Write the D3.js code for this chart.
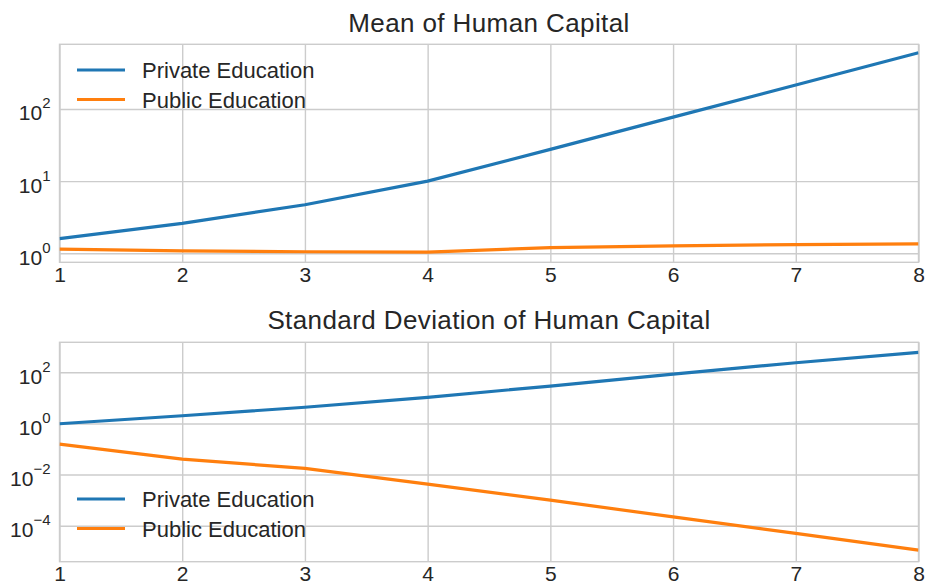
<!DOCTYPE html>
<html><head><meta charset="utf-8">
<script src="https://cdn.jsdelivr.net/npm/d3@7"></script>
<style>
body{margin:0;background:#fff}
svg{display:block}
text{font-family:"Liberation Sans",Arial,sans-serif;fill:#262626}
</style>
</head><body><svg id="c" width="927" height="582"></svg>
<script>
// ---- data ----
const periods = [1, 2, 3, 4, 5, 6, 7, 8];
const meanPrivate = [1.6, 2.6, 4.7, 10, 27.5, 77, 215, 600];
const meanPublic = [1.14, 1.08, 1.05, 1.04, 1.2, 1.27, 1.32, 1.35];
const sdPrivate = [0.97, 2.0, 4.3, 10.5, 29, 85, 236, 600];
const sdPublic = [0.156, 0.040, 0.0175, 0.0042, 0.0010, 2.2e-4, 5.0e-5, 1.1e-5];
const seriesNames = ["Private Education", "Public Education"];
const xTicks = [1, 2, 3, 4, 5, 6, 7, 8];
const meanYExponents = [0, 1, 2];
const sdYExponents = [-4, -2, 0, 2];
const titles = ["Mean of Human Capital", "Standard Deviation of Human Capital"];

// ---- layout ----
const colors = ["#1f77b4", "#ff7f0e"];
const left = 59.5, right = 918.5;
const panels = [
  {title: titles[0], top: 44.3, bottom: 262.3, dom: [Math.pow(10, -0.125), Math.pow(10, 2.896)],
   exps: meanYExponents, series: [meanPrivate, meanPublic], legendY: 70, titleY: 32},
  {title: titles[1], top: 342.3, bottom: 561.7, dom: [Math.pow(10, -5.408), Math.pow(10, 3.173)],
   exps: sdYExponents, series: [sdPrivate, sdPublic], legendY: 499, titleY: 328.5}
];

const svg = d3.select("#c");
const x = d3.scaleLinear().domain([1, 8]).range([left, right]);

panels.forEach((p, pi) => {
  const y = d3.scaleLog().domain(p.dom).range([p.bottom, p.top]);
  const g = svg.append("g");
  const h = p.bottom - p.top;

  // x grid + labels
  const xa = g.append("g").attr("transform", `translate(0,${p.bottom})`)
    .call(d3.axisBottom(x).tickValues(xTicks).tickSize(-h).tickPadding(0).tickFormat(d3.format("d")));
  xa.select(".domain").remove();
  xa.selectAll("line").attr("stroke", "#cccccc").attr("stroke-width", 1.4);
  xa.selectAll("text").attr("y", 19.5).attr("dy", null).attr("font-size", 21).style("fill", "#262626");

  // y grid + labels
  const ya = g.append("g").attr("transform", `translate(${left},0)`)
    .call(d3.axisLeft(y).tickValues(p.exps.map(e => Math.pow(10, e))).tickSize(-(right - left)).tickFormat(""));
  ya.select(".domain").remove();
  ya.selectAll("line").attr("stroke", "#cccccc").attr("stroke-width", 1.4);
  ya.selectAll(".tick text").remove();
  ya.selectAll(".tick").each(function(d, i) {
    const e = p.exps[i];
    const t = d3.select(this).append("text")
      .attr("x", -9).attr("y", 11).attr("text-anchor", "end").attr("font-size", 21);
    t.append("tspan").text("10");
    t.append("tspan").attr("dy", -12).attr("font-size", 15).text(e < 0 ? "\u2212" + (-e) : String(e));
  });

  // frame
  g.append("rect").attr("x", left).attr("y", p.top).attr("width", right - left).attr("height", h)
    .attr("fill", "none").attr("stroke", "#cccccc").attr("stroke-width", 1.4);

  // clip
  const cid = "clip" + pi;
  svg.append("clipPath").attr("id", cid).append("rect")
    .attr("x", left).attr("y", p.top).attr("width", right - left).attr("height", h);

  const line = d3.line().x((d, i) => x(periods[i])).y(d => y(d));
  p.series.forEach((s, si) => {
    g.append("path").datum(s).attr("d", line).attr("fill", "none")
      .attr("stroke", colors[si]).attr("stroke-width", 3.2).attr("clip-path", `url(#${cid})`);
  });

  // legend
  seriesNames.forEach((n, si) => {
    const ly = p.legendY + si * 29.5;
    g.append("line").attr("x1", 77).attr("x2", 125).attr("y1", ly).attr("y2", ly)
      .attr("stroke", colors[si]).attr("stroke-width", 3.2);
    g.append("text").attr("x", 142).attr("y", ly + 8).attr("font-size", 22).text(n);
  });

  // title
  g.append("text").attr("x", (left + right) / 2).attr("y", p.titleY).attr("text-anchor", "middle")
    .attr("font-size", 26).attr("letter-spacing", 0.4).text(p.title);
});
</script>
</body></html>
